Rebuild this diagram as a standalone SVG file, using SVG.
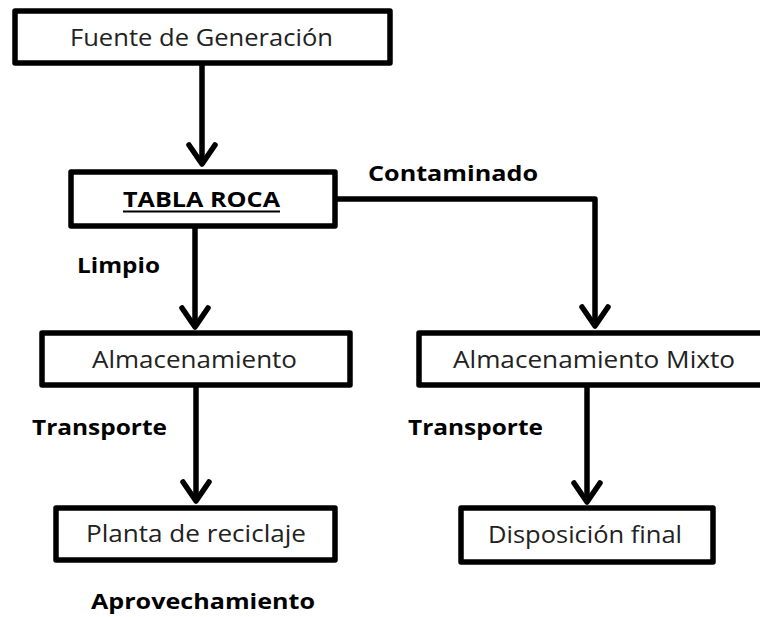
<svg xmlns="http://www.w3.org/2000/svg" width="760" height="617" viewBox="0 0 760 617">
<style>
.box{fill:#fff;stroke:#000;stroke-width:5.5;stroke-linejoin:round}
.t{font-family:"Open Sans","Liberation Sans",sans-serif;font-size:23px;fill:#222;text-anchor:start}
.b{font-family:"Open Sans","Liberation Sans",sans-serif;font-size:21px;font-weight:bold;fill:#000}
.c{fill:none;stroke:#000;stroke-width:5.5;stroke-linejoin:round}
.h{fill:none;stroke:#000;stroke-width:5.5;stroke-linecap:round;stroke-linejoin:round}
</style>
<rect width="760" height="617" fill="#fff"/>
<g id="connectors">
<path class="c" d="M202 64 V164"/>
<path class="h" d="M189 145 L202 164 L215 145"/>
<path class="c" d="M337 199 H595 V326"/>
<path class="h" d="M582 307 L595 326 L608 307"/>
<path class="c" d="M195 228 V327"/>
<path class="h" d="M182 308 L195 327 L208 308"/>
<path class="c" d="M196 387 V501"/>
<path class="h" d="M183 482 L196 501 L209 482"/>
<path class="c" d="M587 387 V502"/>
<path class="h" d="M574 483 L587 502 L600 483"/>
</g>
<g id="labels">
<text class="b" x="368" y="181" textLength="170" lengthAdjust="spacingAndGlyphs">Contaminado</text>
<text class="b" x="77" y="273" textLength="83" lengthAdjust="spacingAndGlyphs">Limpio</text>
<text class="b" x="32" y="435" textLength="135" lengthAdjust="spacingAndGlyphs">Transporte</text>
<text class="b" x="408" y="435" textLength="135" lengthAdjust="spacingAndGlyphs">Transporte</text>
<text class="b" x="91" y="609" textLength="224" lengthAdjust="spacingAndGlyphs">Aprovechamiento</text>
</g>
<g id="n-fuente">
<rect class="box" x="15" y="11" width="375" height="52"/>
<text class="t" x="70" y="46" textLength="263" lengthAdjust="spacingAndGlyphs">Fuente de Generación</text>
</g>
<g id="n-tabla">
<rect class="box" x="71" y="172" width="264" height="54"/>
<text class="b" x="123" y="207" textLength="157" lengthAdjust="spacingAndGlyphs" font-size="23">TABLA ROCA</text>
<line x1="123" y1="211.5" x2="280" y2="211.5" stroke="#000" stroke-width="1.8"/>
</g>
<g id="n-alm">
<rect class="box" x="42" y="333" width="308" height="52"/>
<text class="t" x="92" y="368" textLength="205" lengthAdjust="spacingAndGlyphs">Almacenamiento</text>
</g>
<g id="n-mixto">
<rect class="box" x="419" y="333" width="345" height="52"/>
<text class="t" x="453" y="368" textLength="282" lengthAdjust="spacingAndGlyphs">Almacenamiento Mixto</text>
</g>
<g id="n-planta">
<rect class="box" x="56" y="508" width="279" height="52"/>
<text class="t" x="86" y="542" textLength="220" lengthAdjust="spacingAndGlyphs">Planta de reciclaje</text>
</g>
<g id="n-disp">
<rect class="box" x="461" y="508" width="252" height="54"/>
<text class="t" x="488" y="543" textLength="194" lengthAdjust="spacingAndGlyphs">Disposición final</text>
</g>
</svg>
